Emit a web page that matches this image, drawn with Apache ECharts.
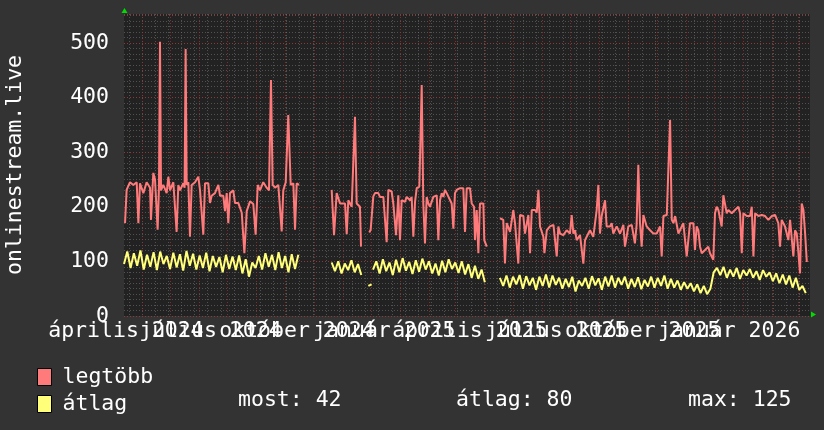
<!DOCTYPE html>
<html><head><meta charset="utf-8">
<script src="https://cdn.jsdelivr.net/npm/echarts@6/dist/echarts.min.js"></script>
<style>html,body{margin:0;padding:0;background:#333333;}#c{width:824px;height:430px;}</style>
</head><body><div id="c"></div>
<script>
// x values are days since 2024-03-13 (graph start), graph spans 730 days
const X_MIN = 0, X_MAX = 730;
const Y_MIN = 0, Y_MAX = 553;
const yTickValues = [0, 100, 200, 300, 400, 500];
const xLabelTexts = ['április 2024','július 2024','október 2024','január 2025','április 2025','július 2025','október 2025','január 2026'];
const xLabelDays = [2, 92, 184, 277, 368, 460, 552, 644];
const monthStartDays = [19,49,80,110,141,172,202,233,263,294,325,353,384,414,445,475,506,537,567,598,628,659,690,718];
const minorDays = [6,19,33,47,61,75,89,103,117,131,145,159,173,187,201,215,229,243,257,271,285,299,313,327,341,355,369,383,397,411,425,439,453,467,481,495,509,523,537,551,565,579,593,607,621,635,649,663,677,691,705,719];

const seriesNames = ['legtöbb', 'átlag'];
const statNow = 42, statAvg = 80, statMax = 125;

// legtöbb (max) : day / value pairs, null = gap
const maxDays = [1.1,2.8,6.4,9.9,13.5,15.3,17,20.6,24.1,27.7,28.7,31.2,33,35.8,37.2,38.3,39.4,41.8,45.4,47.2,49,52.5,56,57.8,59.6,63.1,64.5,65.6,66.7,68.5,70.2,72,75.6,79.1,80.9,84.4,86.2,89.7,91.5,93.3,96.8,100.4,102.2,105.7,107.5,109.3,111,112.8,116.3,118.1,121.6,125.3,128.1,130.6,134.1,137.6,140.1,142.3,144.7,148.2,151.8,154.3,156.4,158.2,160.7,164.2,167.8,169.5,172.1,174.8,177.4,180.2,182,183.8,186.2,
 200,
 221,223.5,226.3,229.9,235.2,237,238.7,242.3,244,245.8,247.6,251.1,252.2,
 257,
 261,262.5,263.6,265.3,267.1,270.6,272.4,276,277.7,279.5,281.3,284.8,286.6,289.5,291.9,293.7,295.5,299,300.8,304.4,306.1,307.9,309.7,311.5,314.3,316.8,318.5,320.3,322.1,323.9,325.6,329.2,332.8,334.5,336.3,338.1,339.8,341.6,343.4,345.1,348.7,350.5,352.2,354,357.6,361.1,362.9,364.7,368.2,370,372.5,373.5,375.3,377.1,378.8,382.4,383.4,386,
 393,
 400.1,403.6,405.4,407.3,410.8,414.3,416.1,419.6,421.4,425,426.7,430.3,432.1,433.9,437.4,439.2,441,442.7,446.3,447.4,449.9,453.3,457,460.5,462.2,464,467.5,471.1,474.6,476.4,478.2,480,481.7,485.3,488.8,490.6,494.1,495.9,499.4,503,504.8,506.5,508.3,511.9,513.6,517.2,519,520.7,524.3,527.8,531.4,533.1,536.7,540.3,543.7,545.5,547.3,549.1,550.9,552.7,556.2,559.8,563.3,566.9,570.4,572.2,574,577.6,581.1,582.9,584.7,586.5,590,
 591.7,595.2,598.8,602.3,605.9,607.6,609.4,611.2,613,614.8,618.3,621.8,623.6,627.1,628.9,630.7,632.5,634.2,636,637.8,639.6,641.4,643.1,646.7,650.2,653.8,655.6,657.4,659.1,662.7,666.2,668,669.8,671.6,675.1,678.7,682.2,685.7,689.3,692.8,696.3,698.1,699.9,703.4,705.2,707,708.8,712.3,714.1,715.9,717.7,719.4,721.2,723,724.8,726.6];
const maxVals = [170,231,245,240,245,170,243,225,245,235,176,262,250,158,235,502,230,240,225,255,230,245,154,240,230,243,235,489,240,245,145,240,245,255,230,149,243,243,207,220,225,240,220,220,192,225,170,225,230,207,207,189,115,192,210,205,149,240,230,245,235,230,432,240,235,240,155,230,245,368,240,243,158,243,240,
 null,
 231,148,225,206,206,150,212,200,203,365,206,200,127,
 null,
 153,158,160,219,225,225,218,218,221,135,231,228,206,148,221,139,212,209,218,212,218,145,209,234,237,423,206,133,218,206,200,218,221,139,212,225,218,231,225,228,206,160,225,231,234,234,154,234,234,206,200,139,194,115,206,206,139,127,
 null,
 179,176,96,170,154,194,170,96,185,183,151,185,115,194,194,189,231,164,145,115,157,164,167,109,164,151,148,157,151,185,151,157,139,148,96,139,151,157,145,194,240,151,183,212,164,164,170,151,164,151,167,127,164,167,133,167,277,170,127,185,164,157,151,151,164,109,183,185,359,176,170,183,151,
 151,170,109,170,170,121,164,157,127,115,121,127,115,103,188,200,194,194,164,221,218,188,194,188,194,200,188,115,188,183,183,200,109,188,183,185,183,176,183,185,170,127,176,164,164,139,176,109,157,151,115,78,206,194,151,99];

// átlag (average): segments sampled every 3.5 days
const AVG_STEP = 3.5;
const avgStartA = 0;
const avgA = [95,118,88,115,92,120,85,112,90,117,84,118,95,110,86,116,89,113,83,119,92,114,85,111,88,116,82,110,90,108,80,112,86,109,84,111,78,104,72,98,88,110,85,115,90,112,84,117,88,110,80,113,86,112];
const avgStartB = 221;
const avgB = [98,82,100,78,96,84,102,80,95,75];
const avgStartP = 260;
const avgP = [55,58];
const avgStartC = 265;
const avgC = [85,100,78,104,82,98,75,103,80,106,83,99,77,102,81,105,85,100,78,96,74,101,80,104,86,98,79,100,76,95,70,92,68,85,62];
const avgStartD = 400;
const avgD = [70,55,74,52,72,58,75,50,73,56,70,48,72,55,76,52,74,57,70,50,68,53,72,45,65,55,70,50,73,56,69,48,72,54,74,52,70,57,72,50,68,53,71,49,66,54,72,52,70,55,74,50,68,52,65,48,62,50,60,45,58,42,55,40,50,
 80,88,75,90,70,85,72,88,68,84,74,86,70,82,66,84,72,80,64,78,60,76,58,74,52,70,48,55,42];

function segData(start, vals) { return vals.map((v, i) => [start + i * AVG_STEP, v]); }
const GAP = '-';
const maxData = maxDays.map((d, i) => [d, maxVals[i] === null ? GAP : maxVals[i]]);
const avgData = [].concat(
  segData(avgStartA, avgA), [[200, GAP]],
  segData(avgStartB, avgB), [[257, GAP]],
  segData(avgStartP, avgP), [[263, GAP]],
  segData(avgStartC, avgC), [[393, GAP]],
  segData(avgStartD, avgD));

const FONT = '"DejaVu Sans Mono", monospace';
const FS = 21.5;
const RED_GRID = 'rgba(160,50,50,0.75)';
const GRAY_GRID = 'rgba(120,120,120,0.55)';
const PINK = '#ff7b7b', YELLOW = '#ffff7a';

// labels split over two axes (even / odd) so that overlapping labels are all kept
const evenLabelDays = xLabelDays.filter((d, i) => i % 2 === 0);
const oddLabelDays = xLabelDays.filter((d, i) => i % 2 === 1);
function labelAxis(days) {
  return {type: 'value', min: X_MIN, max: X_MAX, position: 'bottom',
    axisLine: {show: false}, axisTick: {show: false},
    axisLabel: {show: true, customValues: days, color: '#ffffff', fontFamily: FONT, fontSize: FS, margin: 4,
      hideOverlap: false, showMinLabel: true, showMaxLabel: true,
      formatter: v => { const i = xLabelDays.indexOf(v); return i >= 0 ? xLabelTexts[i] : ''; }},
    splitLine: {show: false}};
}

const chart = echarts.init(document.getElementById('c'), null, {renderer: 'canvas'});
chart.setOption({
  backgroundColor: '#333333',
  animation: false,
  grid: {left: 124, right: 14, top: 14, bottom: 114, show: true, backgroundColor: '#222222', borderWidth: 0,
         containLabel: false, outerBoundsMode: 'none'},
  xAxis: [
    {type: 'value', min: X_MIN, max: X_MAX, position: 'bottom',
     axisLine: {show: false}, axisTick: {show: false, customValues: minorDays},
     axisLabel: {show: false},
     splitLine: {show: true, lineStyle: {color: GRAY_GRID, width: 1, type: [1, 2]}}},
    {type: 'value', min: X_MIN, max: X_MAX, position: 'bottom',
     axisLine: {show: false}, axisTick: {show: false, customValues: monthStartDays},
     axisLabel: {show: false},
     splitLine: {show: true, lineStyle: {color: RED_GRID, width: 1, type: [1, 2]}}},
    labelAxis(evenLabelDays),
    labelAxis(oddLabelDays)
  ],
  yAxis: [
    {type: 'value', min: Y_MIN, max: Y_MAX, interval: 10, position: 'left',
     axisLine: {show: false}, axisTick: {show: false}, axisLabel: {show: false},
     splitLine: {show: true, lineStyle: {color: GRAY_GRID, width: 1, type: [1, 2]}}},
    {type: 'value', min: Y_MIN, max: Y_MAX, interval: 100, position: 'left',
     name: 'onlinestream.live', nameLocation: 'middle', nameGap: 98, nameRotate: 90,
     nameTextStyle: {color: '#ffffff', fontFamily: FONT, fontSize: FS},
     axisLine: {show: false}, axisTick: {show: false},
     axisLabel: {color: '#ffffff', fontFamily: FONT, fontSize: FS, margin: 15, hideOverlap: false,
       formatter: v => yTickValues.indexOf(v) >= 0 ? String(v) : ''},
     splitLine: {show: true, lineStyle: {color: RED_GRID, width: 1, type: [1, 2]}}}
  ],
  legend: {
    orient: 'vertical', left: 32, top: 361, itemWidth: 14, itemHeight: 17, itemGap: 5,
    icon: 'rect', selectedMode: false,
    itemStyle: {borderColor: '#000000', borderWidth: 1},
    textStyle: {color: '#ffffff', fontFamily: FONT, fontSize: FS, padding: [0, 0, 0, 6]},
    data: seriesNames
  },
  graphic: [
    {type: 'polygon', shape: {points: [[121.5, 13], [127.5, 13], [124.5, 8]]}, style: {fill: '#00dd00'}},
    {type: 'polygon', shape: {points: [[811, 311.5], [811, 317.5], [816, 314.5]]}, style: {fill: '#00dd00'}},
    {type: 'text', left: 238, top: 389, style: {text: 'most: ' + statNow, fill: '#ffffff', font: FS + 'px ' + FONT}},
    {type: 'text', left: 456, top: 389, style: {text: 'átlag: ' + statAvg, fill: '#ffffff', font: FS + 'px ' + FONT}},
    {type: 'text', left: 688, top: 389, style: {text: 'max: ' + statMax, fill: '#ffffff', font: FS + 'px ' + FONT}}
  ],
  series: [
    {name: seriesNames[0], type: 'line', xAxisIndex: 0, yAxisIndex: 1, data: maxData, showSymbol: false, symbol: 'none',
     connectNulls: false, lineStyle: {color: PINK, width: 2}, itemStyle: {color: PINK}, z: 3},
    {name: seriesNames[1], type: 'line', xAxisIndex: 0, yAxisIndex: 1, data: avgData, showSymbol: false, symbol: 'none',
     connectNulls: false, lineStyle: {color: YELLOW, width: 2}, itemStyle: {color: YELLOW}, z: 4}
  ]
});
</script></body></html>
